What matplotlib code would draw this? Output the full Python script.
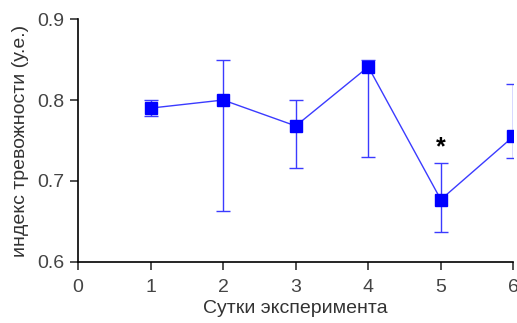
import matplotlib
matplotlib.use("Agg")
import matplotlib.pyplot as plt
import numpy as np

plt.rcParams['font.family'] = ['Liberation Sans', 'DejaVu Sans']

days = [1, 2, 3, 4, 5, 6]
means = [0.790, 0.800, 0.768, 0.841, 0.677, 0.755]
err_low = [0.780, 0.663, 0.716, 0.730, 0.637, 0.728]
err_high = [0.800, 0.850, 0.800, 0.850, 0.722, 0.820]
star_day = 5
star_y = 0.742

lo = np.array(means) - np.array(err_low)
hi = np.array(err_high) - np.array(means)

fig = plt.figure(figsize=(5.17, 3.23), dpi=100)
ax = fig.add_axes([0.151, 0.189, 0.842, 0.752])

ax.errorbar(days, means, yerr=[lo, hi], color='#3b3bff', lw=1, marker='s',
            ms=8, mfc='#0000ff', mec='#0000ff', capsize=5, elinewidth=1, capthick=1)
ax.text(star_day, star_y, '*', ha='center', va='center', fontsize=18, fontweight='bold')

ax.set_xlim(0, 6)
ax.set_ylim(0.6, 0.9)
ax.set_xticks(range(0, 7))
ax.set_yticks([0.6, 0.7, 0.8, 0.9])
ax.spines['top'].set_visible(False)
ax.spines['right'].set_visible(False)
ax.spines['left'].set_linewidth(1.2)
ax.spines['bottom'].set_linewidth(1.2)
ax.tick_params(direction='out', length=6, width=1.2, labelsize=14, pad=6, colors='#333333')
ax.tick_params(axis='y', pad=4)
ax.tick_params(labelcolor='#444444')
ax.set_xlabel('Сутки эксперимента', fontsize=14, color='#333333', labelpad=3)
ax.set_ylabel('индекс тревожности (у.е.)', fontsize=14, color='#333333', labelpad=6)

fig.savefig('out.png', dpi=100)
